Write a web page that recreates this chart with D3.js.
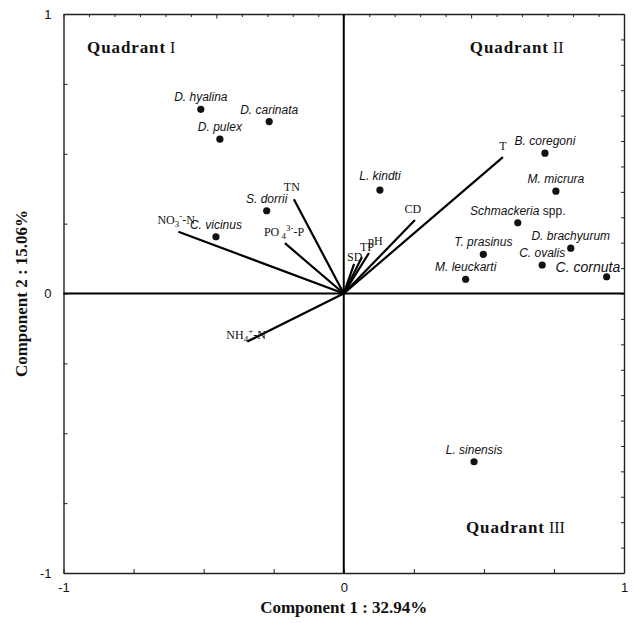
<!DOCTYPE html>
<html>
<head>
<meta charset="utf-8">
<script src="https://cdn.jsdelivr.net/npm/d3@7"></script>
<style>
  html, body { margin: 0; padding: 0; background: #fff; }
  svg { display: block; }
</style>
</head>
<body>
<svg id="chart" width="635" height="623"></svg>
<script>
// Species scores on the first two components
const species = ["D. hyalina", "D. carinata", "D. pulex", "S. dorrii", "C. vicinus",
  "L. kindti", "B. coregoni", "M. micrura", "Schmackeria spp.", "D. brachyurum",
  "T. prasinus", "C. ovalis", "C. cornuta", "M. leuckarti", "L. sinensis"];
const speciesX = [-0.510, -0.266, -0.442, -0.275, -0.456,
  0.129, 0.718, 0.757, 0.621, 0.810,
  0.498, 0.708, 0.938, 0.435, 0.465];
const speciesY = [0.659, 0.615, 0.552, 0.296, 0.203,
  0.370, 0.502, 0.366, 0.253, 0.162,
  0.140, 0.102, 0.060, 0.051, -0.602];

// Environmental variable loadings
const envVars = ["NO3", "TN", "PO4", "NH4", "T", "CD", "pH", "TP", "SD"];
const envX = [-0.590, -0.178, -0.210, -0.344, 0.568, 0.254, 0.090, 0.065, 0.037];
const envY = [0.221, 0.337, 0.180, -0.172, 0.488, 0.263, 0.145, 0.131, 0.106];

// Axis tick labels
const axisTicks = [-1, 0, 1];
const axisTickLabels = ["-1", "0", "1"];

const quadrants = ["Quadrant", "Quadrant", "Quadrant"];
const quadrantNumerals = ["I", "II", "III"];

const svg = d3.select("#chart");
const L = 63.5, R = 624, T = 14, B = 573;

const x = d3.scaleLinear().domain([-1, 1]).range([L, R]);
const y = d3.scaleLinear().domain([-1, 1]).range([B, T]);

const serif = "'Liberation Serif', 'Times New Roman', serif";
const sans = "'Liberation Sans', Arial, sans-serif";

// Frame axes: quarter ticks on bottom/left, eleventh ticks on top/right
const quarter = d3.range(-4, 5).map(k => k / 4);
const eleventh = d3.range(-11, 12).map(k => k / 11);
const labelFor = v => {
  const i = axisTicks.findIndex(t => Math.abs(t - v) < 1e-9);
  return i >= 0 ? axisTickLabels[i] : "";
};

function styleAxis(g) {
  g.selectAll(".domain").attr("stroke", "#222").attr("stroke-width", 1.4);
  g.selectAll(".tick line").attr("stroke", "#222").attr("stroke-width", 1);
  g.selectAll(".tick text").attr("font-family", sans).attr("font-size", 13).attr("fill", "#111");
}

svg.append("g").attr("transform", `translate(0,${B})`)
  .call(d3.axisBottom(x).tickValues(quarter).tickSizeInner(-4).tickSizeOuter(0)
    .tickPadding(10).tickFormat(labelFor))
  .call(styleAxis);

svg.append("g").attr("transform", `translate(${L},0)`)
  .call(d3.axisLeft(y).tickValues(quarter).tickSizeInner(-4).tickSizeOuter(0)
    .tickPadding(12).tickFormat(labelFor))
  .call(styleAxis);

svg.append("g").attr("transform", `translate(0,${T})`)
  .call(d3.axisTop(x).tickValues(eleventh).tickSizeInner(-3).tickSizeOuter(0).tickFormat(""))
  .call(styleAxis)
  .call(g => g.selectAll(".tick line").filter(d => Math.abs(Math.abs(d) - 5 / 11) < 1e-9).attr("y2", 4.5));

svg.append("g").attr("transform", `translate(${R},0)`)
  .call(d3.axisRight(y).tickValues(eleventh).tickSizeInner(-3).tickSizeOuter(0).tickFormat(""))
  .call(styleAxis);

// Zero lines
svg.append("line").attr("x1", x(-1)).attr("x2", x(1)).attr("y1", y(0)).attr("y2", y(0))
  .attr("stroke", "#000").attr("stroke-width", 2);
svg.append("line").attr("x1", x(0)).attr("x2", x(0)).attr("y1", y(-1)).attr("y2", y(1))
  .attr("stroke", "#000").attr("stroke-width", 2);

// Environmental vectors
const envData = envVars.map((v, i) => ({ name: v, x: envX[i], y: envY[i] }));
svg.append("g").selectAll("line").data(envData).join("line")
  .attr("x1", x(0)).attr("y1", y(0))
  .attr("x2", d => x(d.x)).attr("y2", d => y(d.y))
  .attr("stroke", "#000").attr("stroke-width", 2.2).attr("stroke-linecap", "butt");

// Vector labels: [dx, dy, anchor]
const envLabelOffset = {
  NO3: [-21, -8, "start"], TN: [-2, -8, "middle"], PO4: [-21, -7, "start"],
  NH4: [-21, -3, "start"], T: [0, -7, "middle"], CD: [-2, -7, "middle"],
  pH: [-1, -8, "start"], TP: [-2, -6, "start"], SD: [-7, -3, "start"]
};
const envLabelParts = {
  NO3: [["NO", 0], ["3", -1], ["-", 1], ["-N", 0]],
  TN: [["TN", 0]],
  PO4: [["PO", 0], [" 4", -1], ["3-", 1], ["-P", 0]],
  NH4: [["NH", 0], ["4", -1], ["+", 1], ["-N", 0]],
  T: [["T", 0]], CD: [["CD", 0]], pH: [["pH", 0]], TP: [["TP", 0]], SD: [["SD", 0]]
};

const envLabels = svg.append("g").selectAll("text").data(envData).join("text")
  .attr("x", d => x(d.x) + envLabelOffset[d.name][0])
  .attr("y", d => y(d.y) + envLabelOffset[d.name][1])
  .attr("text-anchor", d => envLabelOffset[d.name][2])
  .attr("font-family", serif).attr("font-size", 12).attr("fill", "#111");
envLabels.each(function (d) {
  const t = d3.select(this);
  envLabelParts[d.name].forEach(([s, shift]) => {
    const sp = t.append("tspan").text(s);
    if (shift === -1) sp.attr("font-size", 9).attr("dy", 3);
    else if (shift === 1) sp.attr("font-size", 9).attr("dy", -8);
    else if (t.selectAll("tspan").size() > 1) sp.attr("dy", 5);
  });
});

// Species points
const spData = species.map((s, i) => ({ name: s, x: speciesX[i], y: speciesY[i] }));
svg.append("g").selectAll("circle").data(spData).join("circle")
  .attr("cx", d => x(d.x)).attr("cy", d => y(d.y)).attr("r", 3.6).attr("fill", "#111");

// Species labels: default centred above the point
const spLabelOffset = { "L. kindti": [0, -10, "middle", 12], "C. cornuta": [-51, -5, "start", 14] };
const spLabels = svg.append("g").selectAll("text").data(spData).join("text")
  .attr("x", d => x(d.x) + (spLabelOffset[d.name] ? spLabelOffset[d.name][0] : 0))
  .attr("y", d => y(d.y) + (spLabelOffset[d.name] ? spLabelOffset[d.name][1] : -8))
  .attr("text-anchor", d => spLabelOffset[d.name] ? spLabelOffset[d.name][2] : "middle")
  .attr("font-family", sans)
  .attr("font-size", d => spLabelOffset[d.name] ? spLabelOffset[d.name][3] : 12)
  .attr("fill", "#111");
spLabels.each(function (d) {
  const t = d3.select(this);
  if (d.name.endsWith(" spp.")) {
    t.append("tspan").attr("font-style", "italic").text(d.name.replace(" spp.", ""));
    t.append("tspan").text(" spp.");
  } else {
    t.append("tspan").attr("font-style", "italic").text(d.name);
  }
});

// Quadrant labels
const quadPos = [[-0.916, 0.860], [0.450, 0.860], [0.436, -0.857]];
quadrants.forEach((q, i) => {
  const t = svg.append("text")
    .attr("x", x(quadPos[i][0])).attr("y", y(quadPos[i][1]))
    .attr("font-family", serif).attr("font-size", 17).attr("fill", "#111");
  t.append("tspan").attr("font-weight", "bold").attr("letter-spacing", 0.9).text(q);
  t.append("tspan").attr("dx", 4).attr("font-size", 16).text(quadrantNumerals[i]);
});

// Axis titles
svg.append("text").attr("x", x(0)).attr("y", 613).attr("text-anchor", "middle")
  .attr("font-family", serif).attr("font-weight", "bold").attr("font-size", 17)
  .attr("fill", "#111").text("Component 1 : 32.94%");
svg.append("text").attr("transform", `translate(27,${y(0)}) rotate(-90)`)
  .attr("text-anchor", "middle")
  .attr("font-family", serif).attr("font-weight", "bold").attr("font-size", 17)
  .attr("fill", "#111").text("Component 2 : 15.06%");
</script>
</body>
</html>
